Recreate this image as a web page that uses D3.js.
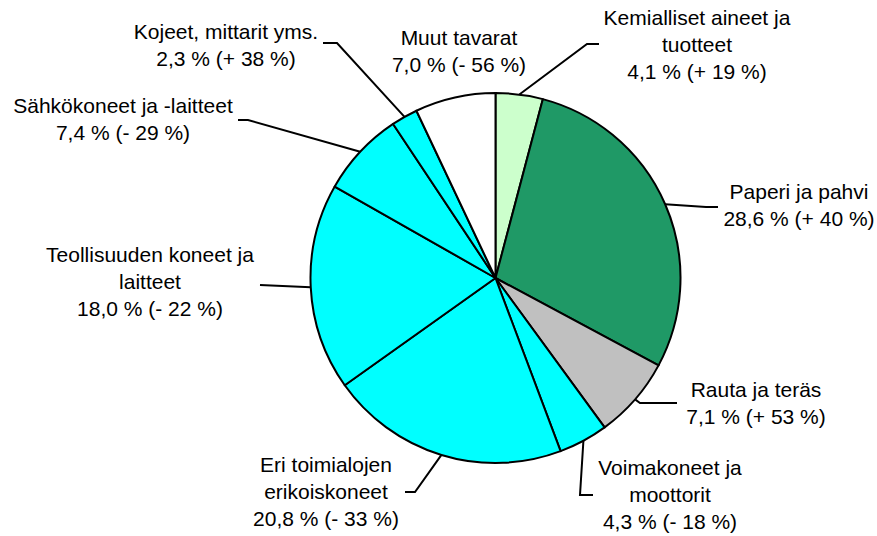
<!DOCTYPE html>
<html>
<head>
<meta charset="utf-8">
<script src="https://cdn.jsdelivr.net/npm/d3@7"></script>
<style>
  html, body { margin: 0; padding: 0; background: #fff; }
  svg { display: block; }
  text { font-family: "Liberation Sans", Arial, sans-serif; font-size: 21px; fill: #000; }
</style>
</head>
<body>
<svg id="chart" width="877" height="536"></svg>
<script>
// Export shares by product group (%), clockwise from 12 o'clock
const categories = [
  ["Kemialliset aineet ja", "tuotteet"],
  ["Paperi ja pahvi"],
  ["Rauta ja teräs"],
  ["Voimakoneet ja", "moottorit"],
  ["Eri toimialojen", "erikoiskoneet"],
  ["Teollisuuden koneet ja", "laitteet"],
  ["Sähkökoneet ja -laitteet"],
  ["Kojeet, mittarit yms."],
  ["Muut tavarat"]
];
const shares  = [4.1, 28.6, 7.1, 4.3, 20.8, 18.0, 7.4, 2.3, 7.0];
const changes = [19, 40, 53, -18, -33, -22, -29, 38, -56];
const colors  = ["#ccffcc", "#1f9966", "#c0c0c0", "#00ffff", "#00ffff", "#00ffff", "#00ffff", "#00ffff", "#ffffff"];

// Label placement: text centre x, first baseline y, leader elbow and end points
const labelLayout = [
  { x: 697, y: 25,  leader: [[587, 44], [599, 44]] },
  { x: 799, y: 199, leader: [[706, 207], [718, 207]] },
  { x: 756, y: 397, leader: [[640, 403], [677, 403]] },
  { x: 670, y: 475, leader: [[580, 495], [593, 495]] },
  { x: 326, y: 472, leader: [[415, 492], [405, 492]] },
  { x: 150, y: 262, leader: [[260, 285]] },
  { x: 123, y: 113, leader: [[248, 120], [238, 120]] },
  { x: 226, y: 39,  leader: [[337, 43], [323, 43]] },
  { x: 459, y: 45,  leader: null }
];

const cx = 495.5, cy = 278, radius = 185, lineGap = 27;

const svg = d3.select("#chart");
const data = shares.map((v, i) => ({ i, value: v }));

const pie = d3.pie().sort(null).value(d => d.value);
const arcs = pie(data);
const arc = d3.arc().innerRadius(0).outerRadius(radius);

const g = svg.append("g").attr("transform", `translate(${cx},${cy})`);

g.selectAll("path.slice")
  .data(arcs)
  .join("path")
  .attr("class", "slice")
  .attr("d", arc)
  .attr("fill", d => colors[d.data.i])
  .attr("stroke", "#000")
  .attr("stroke-width", 2)
  .attr("stroke-linejoin", "round");

const fmt = v => v.toFixed(1).replace(".", ",");
const fmtChange = c => (c >= 0 ? "+ " : "- ") + Math.abs(c);

// Leader lines from the slice's mid-angle on the rim
const line = d3.line();
arcs.forEach(a => {
  const lay = labelLayout[a.data.i];
  if (!lay.leader) return;
  const mid = (a.startAngle + a.endAngle) / 2;
  const start = [cx + radius * Math.sin(mid), cy - radius * Math.cos(mid)];
  svg.append("path")
    .attr("d", line([start, ...lay.leader]))
    .attr("fill", "none")
    .attr("stroke", "#000")
    .attr("stroke-width", 2);
});

// Labels: category name lines followed by share and change
arcs.forEach(a => {
  const i = a.data.i;
  const lay = labelLayout[i];
  const lines = [...categories[i], `${fmt(shares[i])} % (${fmtChange(changes[i])} %)`];
  const t = svg.append("text")
    .attr("text-anchor", "middle")
    .attr("x", lay.x)
    .attr("y", lay.y);
  lines.forEach((s, k) => {
    t.append("tspan")
      .attr("x", lay.x)
      .attr("y", lay.y + k * lineGap)
      .text(s);
  });
});
</script>
</body>
</html>
